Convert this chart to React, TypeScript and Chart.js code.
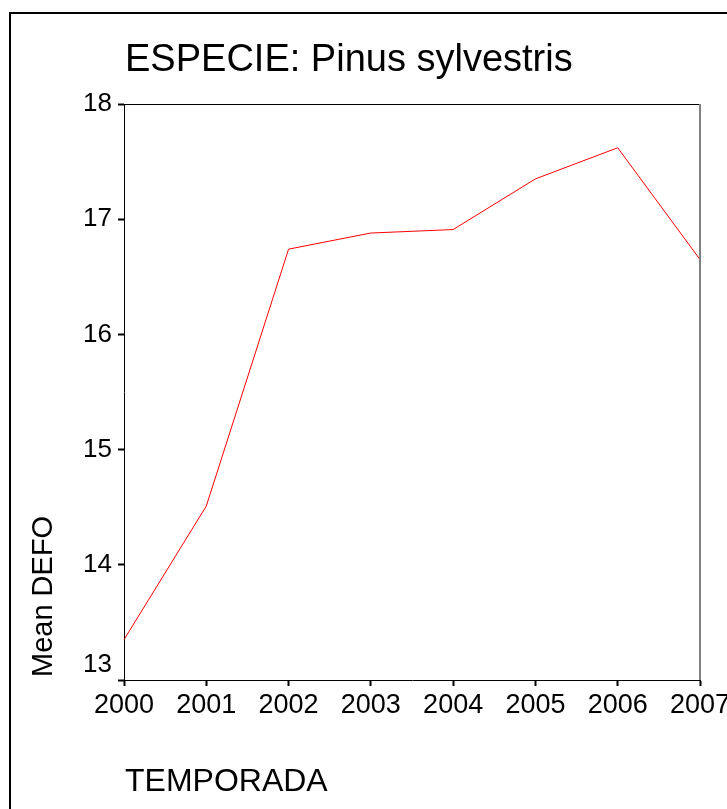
import React, { useEffect, useRef } from 'react';
import { Chart, registerables } from 'chart.js';

Chart.register(...registerables);

const years: string[] = ['2000', '2001', '2002', '2003', '2004', '2005', '2006', '2007'];
const meanDefo: number[] = [13.35, 14.51, 16.74, 16.88, 16.91, 17.35, 17.62, 16.65];
const yMin = 13;
const yMax = 18;
const chartTitle = 'ESPECIE: Pinus sylvestris';
const xTitle = 'TEMPORADA';
const yTitle = 'Mean DEFO';

const FONT = '"Liberation Sans", Arial, "DejaVu Sans", sans-serif';

const decorPlugin = {
  id: 'decor',
  afterDraw(chart: any) {
    const { ctx, chartArea } = chart;
    const { left, right, top, bottom } = chartArea;
    ctx.save();
    // outer frame
    ctx.strokeStyle = '#000';
    ctx.lineWidth = 2;
    ctx.strokeRect(10, 13, 900, 900);
    // top frame line
    ctx.lineWidth = 1;
    ctx.beginPath();
    ctx.moveTo(left, top + 0.5);
    ctx.lineTo(right, top + 0.5);
    ctx.stroke();
    // right frame line
    ctx.strokeStyle = '#808080';
    ctx.lineWidth = 2;
    ctx.beginPath();
    ctx.moveTo(right, top);
    ctx.lineTo(right, bottom);
    ctx.stroke();
    // title
    ctx.fillStyle = '#000';
    ctx.textAlign = 'left';
    ctx.textBaseline = 'alphabetic';
    ctx.font = `38px ${FONT}`;
    ctx.fillText(chartTitle, 125, 71);
    // x title
    ctx.font = `32px ${FONT}`;
    ctx.fillText(xTitle, 125, 791);
    // y title
    ctx.translate(52, 677);
    ctx.rotate(-Math.PI / 2);
    ctx.font = `29px ${FONT}`;
    ctx.fillText(yTitle, 0, 0);
    ctx.restore();
  },
};

export default function App() {
  const ref = useRef<HTMLCanvasElement | null>(null);
  useEffect(() => {
    if (!ref.current) return;
    const chart = new Chart(ref.current, {
      type: 'line',
      data: {
        labels: years,
        datasets: [
          {
            label: yTitle,
            data: meanDefo,
            borderColor: '#ff0000',
            borderWidth: 1,
            pointRadius: 0,
            tension: 0,
            fill: false,
          },
        ],
      },
      options: {
        animation: false,
        responsive: false,
        devicePixelRatio: 1,
        layout: { padding: { top: 104, right: 27, left: 0, bottom: 0 } },
        plugins: {
          legend: { display: false },
          title: { display: false },
          tooltip: { enabled: false },
        },
        scales: {
          x: {
            type: 'category',
            offset: false,
            grid: {
              display: true,
              drawOnChartArea: false,
              drawTicks: true,
              tickLength: 6,
              tickWidth: 2,
              tickColor: '#000',
            },
            border: { display: true, color: '#000', width: 1 },
            ticks: {
              color: '#000',
              font: { family: FONT, size: 27 },
              padding: 3,
              maxRotation: 0,
              autoSkip: false,
            },
            afterFit: (s: any) => {
              s.height = 129;
              s.paddingLeft = 0;
              s.paddingRight = 0;
            },
          },
          y: {
            type: 'linear',
            min: yMin,
            max: yMax,
            grid: {
              display: true,
              drawOnChartArea: false,
              drawTicks: true,
              tickLength: 6,
              tickWidth: 2,
              tickColor: '#000',
            },
            border: { display: true, color: '#000', width: 1 },
            ticks: {
              stepSize: 1,
              color: '#000',
              font: { family: FONT, size: 26 },
              padding: 6,
              callback: (v: any) => (Number(v) === yMin ? [String(v), ''] : String(v)),
            },
            afterFit: (s: any) => {
              s.width = 124;
              s.paddingTop = 0;
              s.paddingBottom = 0;
            },
          },
        },
      },
      plugins: [decorPlugin],
    });
    return () => chart.destroy();
  }, []);
  return (
    <div style={{ position: 'fixed', left: 0, top: 0, width: 727, height: 809, background: '#fff' }}>
      <canvas ref={ref} width={727} height={809} style={{ display: 'block' }} />
    </div>
  );
}
